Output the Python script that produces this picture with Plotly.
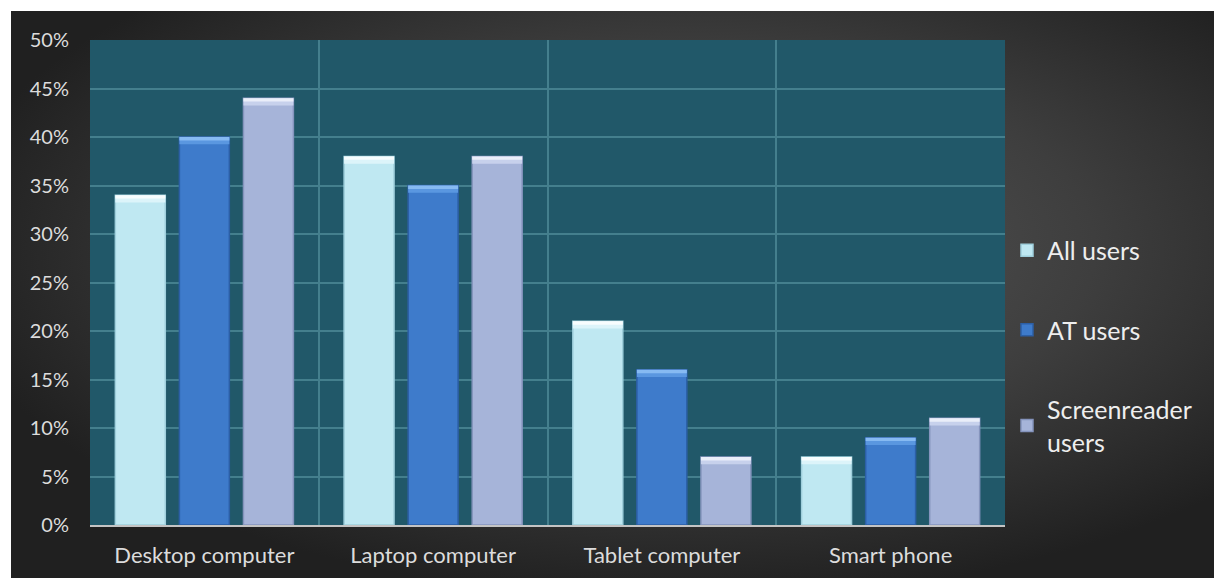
import base64
import plotly.graph_objects as go

# Device usage by user group (percent)
categories = ["Desktop computer", "Laptop computer", "Tablet computer", "Smart phone"]
all_users = [34, 38, 21, 7]
at_users = [40, 35, 16, 9]
screenreader_users = [44, 38, 7, 11]

series_names = ["All users", "AT users", "Screenreader<br>users"]
series_values = [all_users, at_users, screenreader_users]
body_colors = ["#bfe8f2", "#3e7bcb", "#a6b4d9"]
edge_colors = ["#9fcfdc", "#2c5fa6", "#8594bd"]
cap_mid_colors = ["#dcf4fa", "#5a97e0", "#c7d1ec"]
cap_top_colors = ["#f7fdfe", "#86baf2", "#eaeef9"]
cap_mid_height = 0.75
cap_top_height = 0.35

W, H = 1214, 578
ML, MR, MT, MB = 90, 209, 40, 53
PW, PH = W - ML - MR, H - MT - MB


def px_to_paper_x(px):
    return (px - ML) / PW


def px_to_paper_y(py):
    return (H - MB - py) / PH


# Soft dark radial backdrop for the chart frame
bg_svg = (
    '<svg xmlns="http://www.w3.org/2000/svg" width="1203" height="567" '
    'viewBox="0 0 1203 567" preserveAspectRatio="none">'
    '<defs><radialGradient id="g" cx="0.56" cy="0.42" r="0.62">'
    '<stop offset="0" stop-color="#5a5a5a"/>'
    '<stop offset="0.55" stop-color="#3e3e3e"/>'
    '<stop offset="1" stop-color="#202020"/>'
    '</radialGradient></defs>'
    '<rect width="1203" height="567" fill="url(#g)"/></svg>'
)
bg_uri = "data:image/svg+xml;base64," + base64.b64encode(bg_svg.encode()).decode()

fig = go.Figure()

for i, (name, vals) in enumerate(zip(series_names, series_values)):
    fig.add_trace(go.Bar(
        x=categories, y=vals, name=name,
        offsetgroup=str(i), legendgroup=str(i),
        marker=dict(color=body_colors[i],
                    line=dict(color=edge_colors[i], width=1.5)),
        hoverinfo="x+y",
    ))

# bevelled highlight on top of each bar: a soft band and a bright rim
for i, vals in enumerate(series_values):
    for h, col in ((cap_mid_height, cap_mid_colors[i]), (cap_top_height, cap_top_colors[i])):
        fig.add_trace(go.Bar(
            x=categories, y=[h] * len(vals),
            base=[v - h for v in vals],
            offsetgroup=str(i), legendgroup=str(i), showlegend=False,
            marker=dict(color=col, line=dict(width=0)),
            hoverinfo="skip",
        ))

fig.update_layout(
    width=W, height=H,
    margin=dict(l=ML, r=MR, t=MT, b=MB, pad=0, autoexpand=False),
    paper_bgcolor="#ffffff",
    plot_bgcolor="rgba(0,0,0,0)",
    barmode="group",
    bargap=0.16,
    bargroupgap=0.22,
    font=dict(family="Lato, 'Open Sans', sans-serif", size=20, color="#d9d9d9"),
    showlegend=True,
    legend=dict(
        x=px_to_paper_x(1007), xanchor="left",
        y=px_to_paper_y(346), yanchor="middle",
        bgcolor="rgba(0,0,0,0)",
        font=dict(size=25, color="#eeeeee"),
        tracegroupgap=44,
        traceorder="grouped",
    ),
    images=[dict(
        source=bg_uri, xref="paper", yref="paper",
        x=px_to_paper_x(11), y=px_to_paper_y(11),
        sizex=px_to_paper_x(W) - px_to_paper_x(11),
        sizey=px_to_paper_y(11) - px_to_paper_y(H),
        xanchor="left", yanchor="top", sizing="stretch", layer="below",
    )],
    shapes=[dict(
        type="rect", xref="paper", yref="paper", x0=0, x1=1, y0=0, y1=1,
        fillcolor="#215869", line=dict(width=0), layer="below",
    )],
)

fig.update_xaxes(
    type="category", tickson="boundaries", automargin=False,
    showgrid=True, gridcolor="#447f8d", gridwidth=1.5,
    showline=True, linecolor="#c4c4c4", linewidth=2,
    ticks="", ticklabelstandoff=10,
    tickfont=dict(size=22, color="#dcdcdc"),
)
fig.update_yaxes(
    range=[0, 50], dtick=5, ticksuffix="%", automargin=False,
    showgrid=True, gridcolor="#447f8d", gridwidth=1.5,
    zeroline=False, showline=False,
    ticks="", ticklabelstandoff=20,
    tickfont=dict(size=20, color="#dcdcdc"),
)

fig.write_html("out.html")
